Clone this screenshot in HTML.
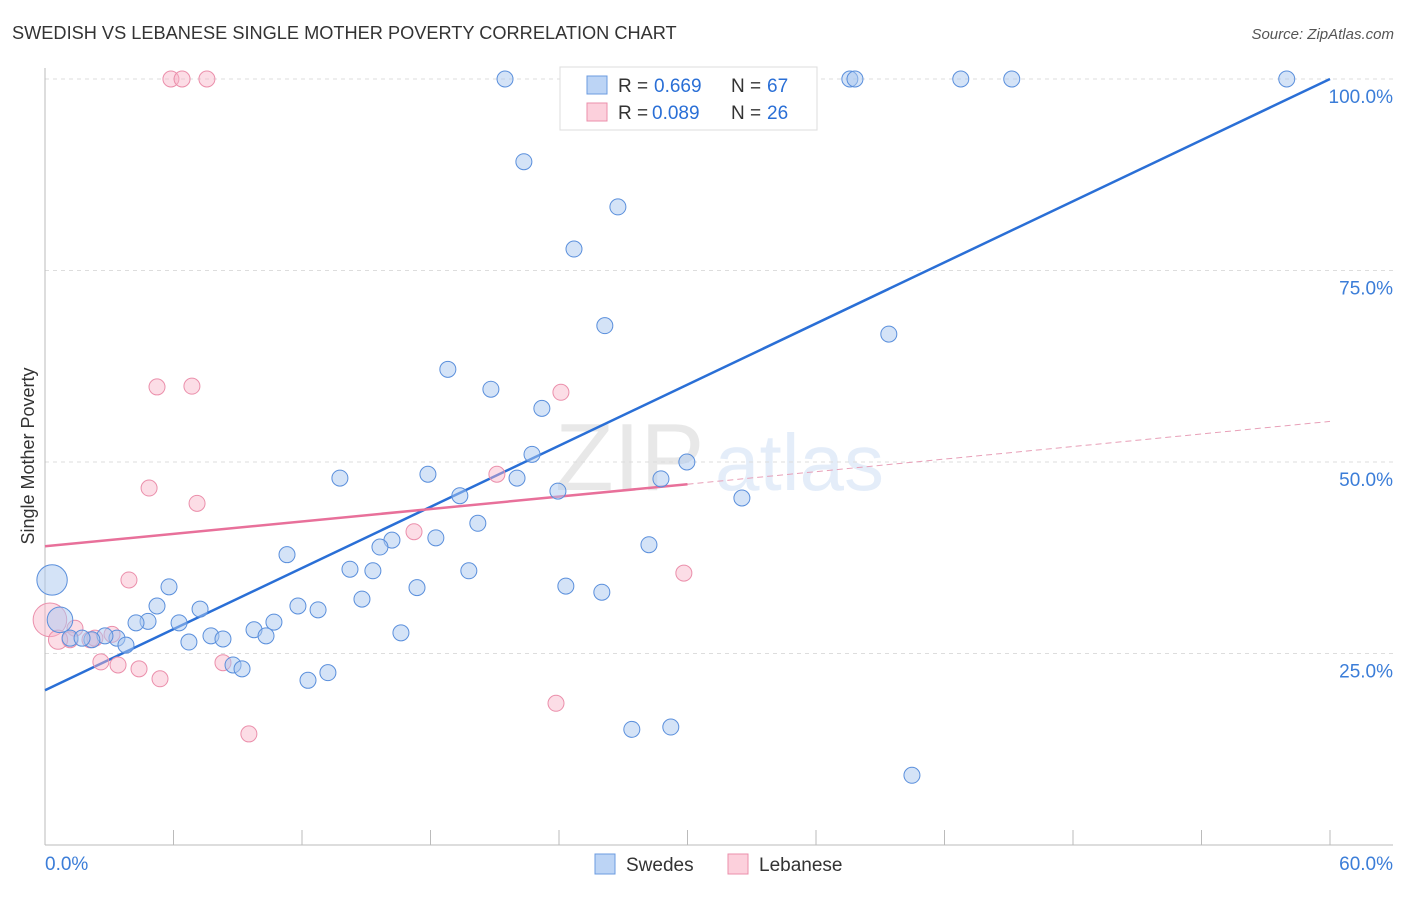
<!DOCTYPE html>
<html><head><meta charset="utf-8"><style>
body{margin:0;background:#fff;font-family:"Liberation Sans",sans-serif;}
svg text{font-family:"Liberation Sans",sans-serif;}
</style></head><body>
<svg id="chart" width="1406" height="892" xmlns="http://www.w3.org/2000/svg">
<text x="12" y="39" font-size="18.2" fill="#333">SWEDISH VS LEBANESE SINGLE MOTHER POVERTY CORRELATION CHART</text>
<text x="1394" y="39" font-size="15" fill="#555" font-style="italic" text-anchor="end">Source: ZipAtlas.com</text>
<text x="34" y="456" font-size="18" fill="#333" text-anchor="middle" transform="rotate(-90 34 456)">Single Mother Poverty</text>
<g opacity="0.13"><text x="555" y="490" font-size="96" font-family="Liberation Serif" fill="#555">ZIP</text><text x="715" y="490" font-size="80" fill="#3b7dd8">atlas</text></g>
<g id="grid"></g><g id="axes"></g><g id="trend"></g><g id="pts"></g>
<g>
<rect x="560" y="67" width="257" height="63" fill="#fff" stroke="#ddd"/>
<rect x="587" y="76" width="20" height="18" fill="#bcd4f5" stroke="#6b9be0"/>
<rect x="587" y="103" width="20" height="18" fill="#fcd0dc" stroke="#eb8fab"/>
<text x="618" y="92" font-size="19" fill="#333">R =</text>
<text x="654" y="92" font-size="19" fill="#2a6fd6">0.669</text>
<text x="731" y="92" font-size="19" fill="#333">N =</text>
<text x="767" y="92" font-size="19" fill="#2a6fd6">67</text>
<text x="618" y="119" font-size="19" fill="#333">R =</text>
<text x="652" y="119" font-size="19" fill="#2a6fd6">0.089</text>
<text x="731" y="119" font-size="19" fill="#333">N =</text>
<text x="767" y="119" font-size="19" fill="#2a6fd6">26</text>
</g>
<g>
<rect x="595" y="854" width="20" height="20" fill="#bcd4f5" stroke="#6b9be0"/>
<text x="626" y="871" font-size="19" fill="#333">Swedes</text>
<rect x="728" y="854" width="20" height="20" fill="#fcd0dc" stroke="#eb8fab"/>
<text x="759" y="871" font-size="19" fill="#333">Lebanese</text>
</g>
</svg>
<script>
const xTickLabels=["0.0%","60.0%"];
const yTicks=[25,50,75,100];
const yTickLabels=["25.0%","50.0%","75.0%","100.0%"];
const blueX=[21.48,31.09,37.58,37.82,42.76,45.14,57.98,22.36,26.75,24.70,26.14,39.40,18.81,20.82,23.20,22.74,29.97,17.88,13.77,22.04,28.76,19.37,23.95,32.54,20.21,18.25,16.20,15.64,28.20,11.30,14.24,15.31,19.79,24.32,26.00,17.37,14.80,5.79,5.23,11.81,12.75,7.24,10.69,4.81,4.25,6.26,9.76,16.62,10.32,7.75,8.31,3.36,2.80,2.19,1.17,1.73,3.78,6.72,8.78,9.20,13.21,12.28,27.40,29.22,40.48,0.33,0.70];
const blueY=[100,100,100,100,100,100,100,89.2,83.3,77.8,67.8,66.7,62.1,59.5,57.0,51.0,50.0,48.4,47.9,47.9,47.8,45.6,46.2,45.3,42.0,40.1,39.8,38.9,39.2,37.9,36.0,35.8,35.8,33.8,33.0,33.6,32.1,33.7,31.2,31.2,30.7,30.8,29.1,29.2,29.0,29.0,28.1,27.7,27.3,27.3,26.9,27.0,27.3,26.8,27.0,27.0,26.1,26.5,23.5,23.0,22.5,21.5,15.1,15.4,9.1,34.6,29.4];
const blueSize=[];for(let i=0;i<blueX.length;i++)blueSize.push(1);blueSize[65]=1.9;blueSize[66]=1.6;
const pinkX=[5.88,6.40,7.56,5.23,6.86,24.09,4.86,7.10,21.10,17.23,29.83,3.92,1.40,3.13,2.10,1.17,2.61,3.41,4.39,5.37,8.31,9.52,23.86,0.23,0.61,2.33];
const pinkY=[100,100,100,59.8,59.9,59.1,46.6,44.6,48.4,40.9,35.5,34.6,28.3,27.5,26.8,26.8,23.9,23.5,23.0,21.7,23.8,14.5,18.5,29.4,26.8,27.0];
const pinkSize=[];for(let i=0;i<pinkX.length;i++)pinkSize.push(1);pinkSize[23]=2.1;pinkSize[24]=1.2;
const blueTrend=[[0,20.2],[60,100]];
const pinkTrend=[[0,39],[30,47.1],[60,55.3]];
const X=v=>45+v*(1285/60), Y=v=>845-v*7.66;
const NS="http://www.w3.org/2000/svg";
function mk(p,t,a){const e=document.createElementNS(NS,t);for(const k in a)e.setAttribute(k,a[k]);document.getElementById(p).appendChild(e);return e;}
let e;
yTicks.forEach((t,i)=>{
 e=mk('grid','line',{x1:45,x2:1393,y1:Y(t),y2:Y(t),stroke:'#ddd','stroke-dasharray':'4 4'});
 
 
 e=mk('axes','text',{x:1393,y:Y(t)+24,'font-size':19,fill:'#3b7dd8','text-anchor':'end'});e.textContent=yTickLabels[i];
 
 
});
e=mk('axes','line',{x1:45,x2:45,y1:68,y2:845,stroke:'#bbb'});


e=mk('axes','line',{x1:45,x2:1393,y1:845,y2:845,stroke:'#bbb'});


for(let i=1;i<=10;i++){e=mk('axes','line',{x1:X(i*6),x2:X(i*6),y1:830,y2:845,stroke:'#bbb'});
 
 }
e=mk('axes','text',{x:45,y:870,'font-size':19,fill:'#3b7dd8'});e.textContent=xTickLabels[0];


e=mk('axes','text',{x:1393,y:870,'font-size':19,fill:'#3b7dd8','text-anchor':'end'});e.textContent=xTickLabels[1];


pinkX.forEach((x,i)=>{e=mk('pts','circle',{cx:X(x),cy:Y(pinkY[i]),r:8*pinkSize[i],fill:'rgba(248,180,200,0.45)',stroke:'#eb8fab','stroke-width':1});
 
 });
blueX.forEach((x,i)=>{e=mk('pts','circle',{cx:X(x),cy:Y(blueY[i]),r:8*blueSize[i],fill:'rgba(170,200,240,0.5)',stroke:'#5a8fdc','stroke-width':1});
 
 });
e=mk('trend','line',{x1:X(blueTrend[0][0]),y1:Y(blueTrend[0][1]),x2:X(blueTrend[1][0]),y2:Y(blueTrend[1][1]),stroke:'#2a6fd6','stroke-width':2.5});


e=mk('trend','line',{x1:X(pinkTrend[0][0]),y1:Y(pinkTrend[0][1]),x2:X(pinkTrend[1][0]),y2:Y(pinkTrend[1][1]),stroke:'#e8709a','stroke-width':2.5});


e=mk('trend','line',{x1:X(pinkTrend[1][0]),y1:Y(pinkTrend[1][1]),x2:X(pinkTrend[2][0]),y2:Y(pinkTrend[2][1]),stroke:'#e8a0b8','stroke-width':1,'stroke-dasharray':'6 4'});


</script>
</body></html>
